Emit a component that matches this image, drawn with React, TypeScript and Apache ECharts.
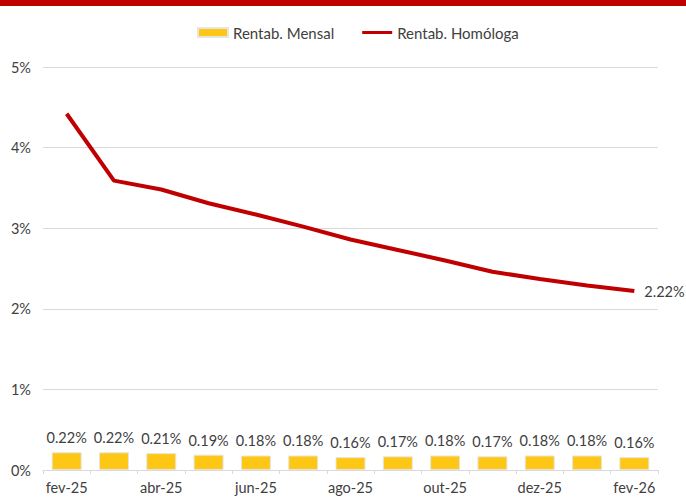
import React, { useEffect, useRef } from "react";
import * as echarts from "echarts";

const categories = ["fev-25", "mar-25", "abr-25", "mai-25", "jun-25", "jul-25", "ago-25", "set-25", "out-25", "nov-25", "dez-25", "jan-26", "fev-26"];
const mensal = [0.22, 0.22, 0.21, 0.19, 0.18, 0.18, 0.16, 0.17, 0.18, 0.17, 0.18, 0.18, 0.16];
const homologa = [4.42, 3.59, 3.48, 3.31, 3.17, 3.02, 2.86, 2.73, 2.6, 2.46, 2.37, 2.29, 2.22];

const FONT = "Lato, 'Open Sans', sans-serif";
const TXT = "#404040";
const FS = 14.5;

export default function App() {
  const ref = useRef<HTMLDivElement>(null);
  useEffect(() => {
    const chart = echarts.init(ref.current!, null, { renderer: "svg" });
    chart.setOption({
      animation: false,
      textStyle: { fontFamily: FONT },
      graphic: [
        { type: "rect", left: 0, top: 0, shape: { width: 686, height: 6 }, style: { fill: "#C00000" } },
      ],
      legend: {
        top: 20,
        left: 192,
        itemGap: 28,
        itemWidth: 30,
        itemHeight: 9,
        textStyle: { fontFamily: FONT, fontSize: 15, color: TXT },
        data: [
          { name: "Rentab. Mensal", icon: "rect" },
          { name: "Rentab. Homóloga", icon: "path://M0,0H40V4H0Z" },
        ],
      },
      grid: { left: 43, right: 28, top: 67, bottom: 28, containLabel: false },
      xAxis: {
        type: "category",
        data: categories,
        boundaryGap: true,
        axisLine: { lineStyle: { color: "#d9d9d9", width: 1 } },
        axisTick: { show: true, alignWithLabel: false, interval: 0, length: 4, lineStyle: { color: "#d9d9d9" } },
        axisLabel: { interval: 1, color: TXT, fontFamily: FONT, fontSize: FS, margin: 10 },
      },
      yAxis: {
        type: "value",
        min: 0,
        max: 5,
        interval: 1,
        axisLabel: { formatter: "{value}%", color: TXT, fontFamily: FONT, fontSize: FS, margin: 12 },
        splitLine: { lineStyle: { color: "#d9d9d9", width: 1 } },
        axisLine: { show: false },
        axisTick: { show: false },
      },
      series: [
        {
          name: "Rentab. Mensal",
          type: "bar",
          data: mensal,
          barWidth: 30,
          itemStyle: { color: "#FFC715", borderColor: "#e6e6e0", borderWidth: 1 },
          label: {
            show: true,
            position: "top",
            distance: 7,
            formatter: (p: any) => p.value.toFixed(2) + "%",
            color: TXT,
            fontFamily: FONT,
            fontSize: FS,
          },
        },
        {
          name: "Rentab. Homóloga",
          type: "line",
          data: homologa,
          showSymbol: false,
          symbol: "none",
          lineStyle: { color: "#C00000", width: 4 },
          itemStyle: { color: "#C00000" },
          endLabel: {
            show: true,
            distance: 10,
            formatter: (p: any) => Number(p.value).toFixed(2) + "%",
            color: TXT,
            fontFamily: FONT,
            fontSize: FS,
          },
        },
      ],
    });
    return () => chart.dispose();
  }, []);
  return <div ref={ref} style={{ width: 686, height: 498, position: "absolute", left: 0, top: 0 }} />;
}
